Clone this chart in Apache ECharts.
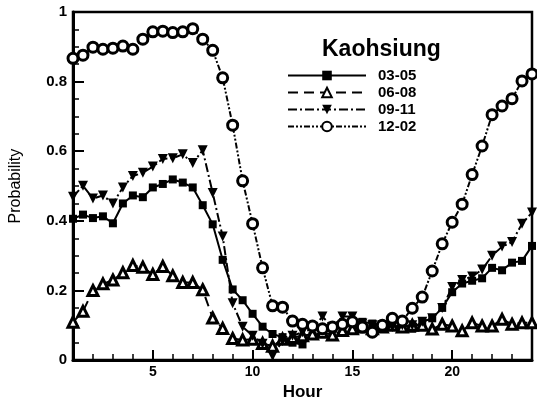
<!DOCTYPE html>
<html><head><meta charset="utf-8">
<script src="https://cdn.jsdelivr.net/npm/echarts@6/dist/echarts.min.js"></script>
<style>html,body{margin:0;padding:0;background:#fff}#c{width:537px;height:406px}</style>
</head><body><div id="c"></div>
<script>
const hours = [1,1.5,2,2.5,3,3.5,4,4.5,5,5.5,6,6.5,7,7.5,8,8.5,9,9.5,10,10.5,11,11.5,12,12.5,13,13.5,14,14.5,15,15.5,16,16.5,17,17.5,18,18.5,19,19.5,20,20.5,21,21.5,22,22.5,23,23.5,24];
const s0305 = [0.406,0.418,0.408,0.413,0.393,0.45,0.473,0.468,0.496,0.506,0.519,0.51,0.496,0.445,0.39,0.288,0.203,0.172,0.133,0.096,0.075,0.066,0.05,0.045,0.07,0.08,0.09,0.095,0.105,0.11,0.105,0.1,0.1,0.09,0.09,0.11,0.12,0.15,0.195,0.22,0.228,0.235,0.265,0.258,0.28,0.285,0.328];
const s0608 = [0.109,0.14,0.2,0.219,0.23,0.251,0.272,0.267,0.246,0.269,0.242,0.223,0.223,0.202,0.121,0.091,0.062,0.058,0.06,0.048,0.04,0.06,0.065,0.07,0.075,0.08,0.072,0.085,0.09,0.095,0.09,0.095,0.1,0.095,0.1,0.1,0.089,0.103,0.098,0.084,0.107,0.098,0.098,0.117,0.103,0.107,0.107];
const s0911 = [0.469,0.501,0.464,0.473,0.45,0.496,0.529,0.538,0.556,0.578,0.58,0.591,0.566,0.603,0.48,0.355,0.163,0.096,0.07,0.047,0.012,0.055,0.07,0.08,0.09,0.125,0.095,0.125,0.125,0.105,0.1,0.1,0.095,0.1,0.1,0.11,0.12,0.15,0.21,0.23,0.24,0.26,0.3,0.326,0.339,0.392,0.424];
const s1202 = [0.867,0.876,0.899,0.893,0.896,0.902,0.893,0.922,0.943,0.945,0.941,0.943,0.952,0.922,0.89,0.811,0.675,0.515,0.392,0.265,0.156,0.152,0.112,0.103,0.098,0.09,0.095,0.103,0.11,0.095,0.08,0.1,0.12,0.112,0.149,0.181,0.256,0.334,0.396,0.448,0.533,0.615,0.705,0.73,0.751,0.802,0.822];
const seriesNames = ['03-05','06-08','09-11','12-02'];
const xMajorTicks = [5,10,15,20];
const xMinorTicks = [2,3,4,6,7,8,9,11,12,13,14,16,17,18,19,21,22,23];

const pair = arr => hours.map((h,i)=>[h,arr[i]]);
const FONT = 'Liberation Sans, Arial, sans-serif';
const chart = echarts.init(document.getElementById('c'), null, {renderer:'canvas'});
const base = {type:'line', clip:false, animation:false, showAllSymbol:true};
chart.setOption({
  backgroundColor:'#fff',
  animation:false,
  title:{text:'Kaohsiung', left:317, top:33, textStyle:{fontFamily:FONT, fontWeight:'bold', fontSize:23, color:'#000'}},
  legend:{
    orient:'vertical', left:287, top:67, padding:0, itemWidth:78, itemHeight:12, itemGap:0,
    data:seriesNames,
    textStyle:{fontFamily:FONT, fontWeight:'bold', fontSize:15, color:'#000', lineHeight:17, padding:[0,0,0,7]}
  },
  grid:{left:70, right:5, top:12, bottom:34, show:true, borderColor:'#000', borderWidth:2.5},
  xAxis:[{
    type:'value', min:1, max:24,
    name:'Hour', nameLocation:'middle', nameGap:15,
    nameTextStyle:{fontFamily:FONT, fontWeight:'bold', fontSize:17, color:'#000'},
    axisLine:{show:true, lineStyle:{color:'#000', width:3}},
    axisTick:{show:true, inside:true, length:10, lineStyle:{color:'#000', width:2}, customValues:xMajorTicks},
    axisLabel:{fontFamily:FONT, fontWeight:'bold', fontSize:14, color:'#000', margin:5, customValues:xMajorTicks},
    splitLine:{show:false}
  },{
    type:'value', min:1, max:24, position:'bottom',
    axisLine:{show:false},
    axisTick:{show:true, inside:true, length:6, lineStyle:{color:'#000', width:1.5}, customValues:xMinorTicks},
    axisLabel:{show:false},
    splitLine:{show:false}
  }],
  yAxis:{
    type:'value', min:0, max:1, interval:0.2,
    name:'Probability', nameLocation:'middle', nameGap:49,
    nameTextStyle:{fontFamily:FONT, fontSize:16, color:'#000'},
    axisLine:{show:true, lineStyle:{color:'#000', width:3}},
    axisTick:{show:true, inside:true, length:11, lineStyle:{color:'#000', width:2}},
    minorTick:{show:true, splitNumber:4, length:6, lineStyle:{color:'#000', width:1.5}},
    axisLabel:{fontFamily:FONT, fontWeight:'bold', fontSize:15, color:'#000', margin:6},
    splitLine:{show:false}
  },
  series:[
    Object.assign({}, base, {name:seriesNames[0], data:pair(s0305), symbol:'rect', symbolSize:8,
      itemStyle:{color:'#000'}, lineStyle:{color:'#000', width:2, type:'solid'}}),
    Object.assign({}, base, {name:seriesNames[1], data:pair(s0608), symbol:'triangle', symbolSize:10,
      itemStyle:{color:'#fff', borderColor:'#000', borderWidth:3}, lineStyle:{color:'#000', width:2, type:[10,6]}}),
    Object.assign({}, base, {name:seriesNames[2], data:pair(s0911), symbol:'triangle', symbolRotate:180, symbolSize:10,
      itemStyle:{color:'#000'}, lineStyle:{color:'#000', width:2, type:[9,3,2,3]}}),
    Object.assign({}, base, {name:seriesNames[3], data:pair(s1202), symbol:'circle', symbolSize:10,
      itemStyle:{color:'#fff', borderColor:'#000', borderWidth:3}, lineStyle:{color:'#000', width:2, type:[6,2,2,2,2,2]}})
  ]
});
</script></body></html>
